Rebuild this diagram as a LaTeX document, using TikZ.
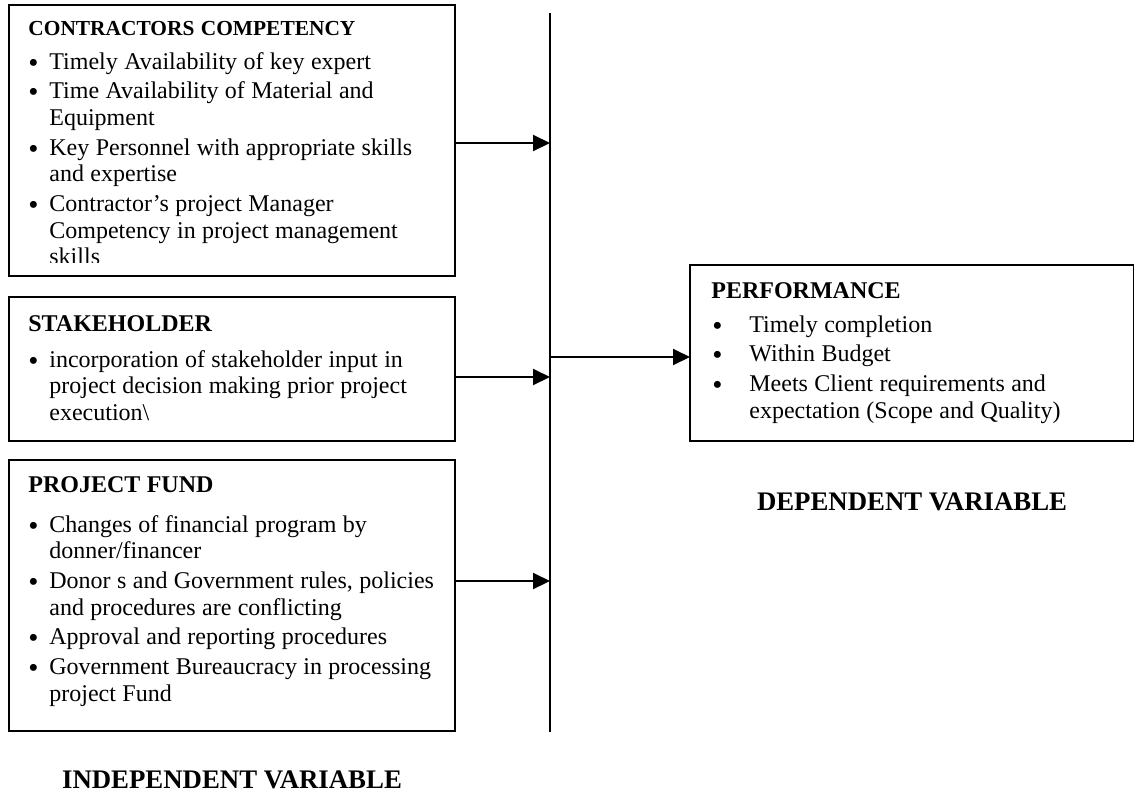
\documentclass[tikz,border=0pt]{standalone}
\usepackage{fontspec}
\setmainfont{Liberation Serif}
\usetikzlibrary{arrows.meta}

\newcommand{\vbul}{\raisebox{-1.5pt}{\fontsize{14.5}{0}\selectfont\textbullet}}
\newcommand{\vsetup}{\setlength{\parskip}{1.5pt}\spaceskip=3.2pt plus 0.3pt\relax\rightskip=0pt plus 1fil\relax\parfillskip=0pt plus 1fil\relax}
\newcommand{\vtitle}[2][12]{{\fontsize{#1}{13.35}\selectfont\bfseries #2}\par}
\newcommand{\vitem}[2][10.5pt]{\par\hangindent=#1\hangafter=1\noindent\makebox[#1][l]{\vbul}#2\par}
\newcommand{\pitem}[2][19pt]{\par\hangindent=#1\hangafter=1\noindent\makebox[#1][l]{\hspace{0.5pt}\vbul}#2\par}

\begin{document}
\begin{tikzpicture}[x=0.5pt,y=-0.5pt,
    varbox/.style={draw,line width=0.75pt,inner sep=0pt,outer sep=0pt,anchor=north west},
    boxtext/.style={anchor=base west,inner sep=0pt,text width=212pt,align=left,
        font=\fontsize{12}{13.35}\selectfont},
    conn/.style={line width=1pt,-{Triangle[length=8.5pt,width=8pt]}},
    varlabel/.style={anchor=base,inner sep=0pt,font=\fontsize{13.4}{15}\selectfont\bfseries}]
    \useasboundingbox (0,0) rectangle (1134,793);
    \node[varbox,minimum width=223pt,minimum height=135.5pt] (cc) at (9,5) {};
    \node[varbox,minimum width=223pt,minimum height=72pt] (sh) at (9,297) {};
    \node[varbox,minimum width=223pt,minimum height=135.5pt] (pf) at (9,460) {};
    \node[varbox,minimum width=222pt,minimum height=88pt] (perf) at (690,265) {};
    \begin{scope}
        \clip (9,5) rectangle (455,262);
        \node[boxtext] (cctext) at (28,35) {\vsetup
            \vtitle[10.7]{CONTRACTORS COMPETENCY}\vspace{2.15pt}
            \vitem{Timely Availability of key expert}
            \vitem{Time Availability of Material and\newline Equipment}
            \vitem{Key Personnel with appropriate skills\newline and expertise}
            \vitem{Contractor’s project Manager\newline Competency in project management\newline skills}};
    \end{scope}
    \node[boxtext] (shtext) at (28,331) {\vsetup
        \vtitle{STAKEHOLDER}\vspace{3.15pt}
        \vitem{incorporation of stakeholder input in\newline project decision making prior project\newline execution\textbackslash}};
    \node[boxtext] (pftext) at (28,492) {\vsetup
        \vtitle{PROJECT FUND}\vspace{5.15pt}
        \vitem{Changes of financial program by\newline donner/financer}
        \vitem{Donor s and Government rules, policies\newline and procedures are conflicting}
        \vitem{Approval and reporting procedures}
        \vitem{Government Bureaucracy in processing\newline project Fund}};
    \node[boxtext] (perftext) at (711,298) {\vsetup
        \vtitle{PERFORMANCE}\vspace{2.15pt}
        \pitem{Timely completion}
        \pitem{Within Budget}
        \pitem{Meets Client requirements and\newline expectation (Scope and Quality)}};
    \coordinate (bustop) at (550,13);
    \coordinate (busbot) at (550,732);
    \coordinate (b1) at (550,143);
    \coordinate (b2) at (550,377);
    \coordinate (b3) at (550,581);
    \coordinate (bo) at (550,357);
    \draw[line width=1pt] (bustop) -- (busbot);
    \draw[conn] (cc.east |- b1) -- (b1);
    \draw[conn] (sh.east |- b2) -- (b2);
    \draw[conn] (pf.east |- b3) -- (b3);
    \draw[conn] (bo) -- (perf.west |- bo);
    \node[varlabel] (indep) at (232,788) {INDEPENDENT VARIABLE};
    \node[varlabel] (dep) at (912,510) {DEPENDENT VARIABLE};
\end{tikzpicture}
\end{document}
